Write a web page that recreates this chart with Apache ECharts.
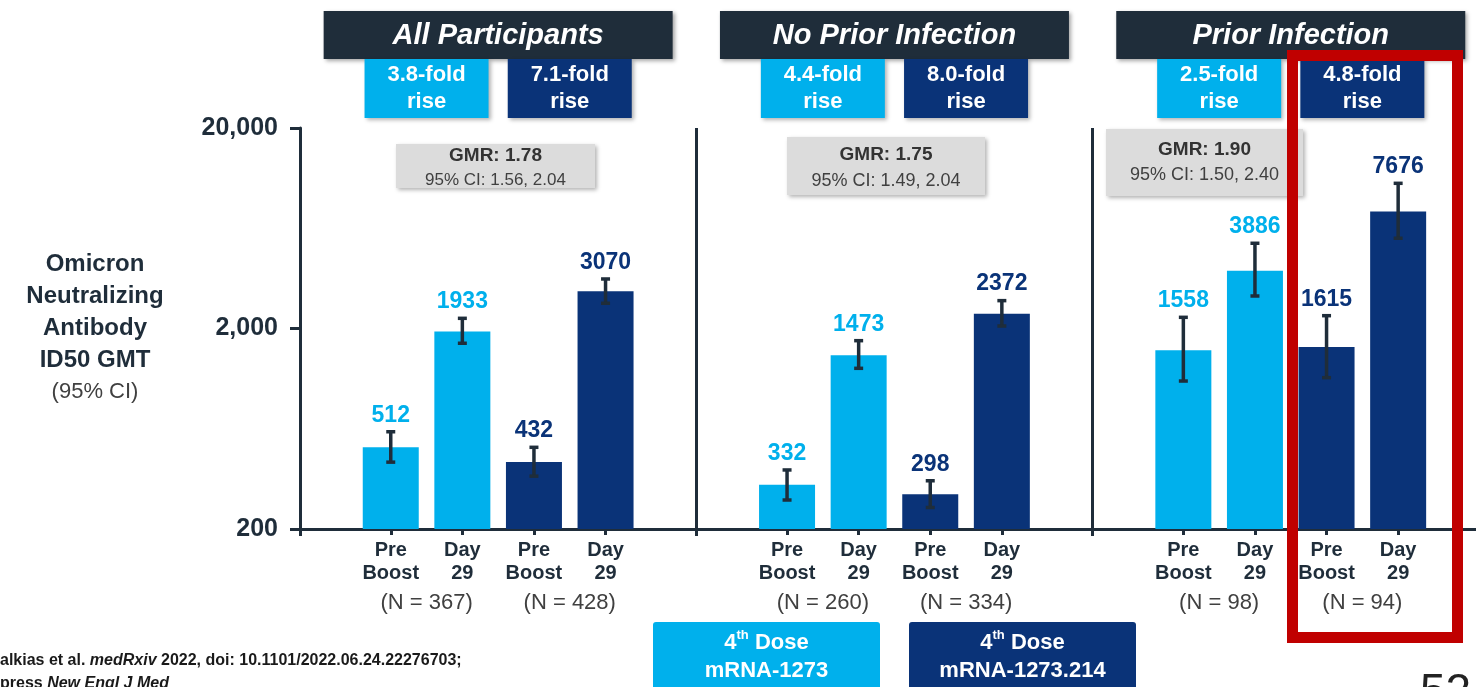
<!DOCTYPE html>
<html>
<head>
<meta charset="utf-8">
<title>Omicron neutralizing antibody GMT</title>
<script src="https://cdn.jsdelivr.net/npm/echarts@6/dist/echarts.min.js"></script>
<style>
  html, body { margin: 0; padding: 0; background: #fff; }
  #chart { width: 1476px; height: 687px; }
</style>
</head>
<body>
<div id="chart"></div>
<script>
// values (GMT and 95% CI per bar)
const panelTitles = ['All Participants', 'No Prior Infection', 'Prior Infection']
const categories = ['Pre\nBoost', 'Day\n29', 'Pre\nBoost', 'Day\n29']
const gmt = [[512, 1933, 432, 3070], [332, 1473, 298, 2372], [1558, 3886, 1615, 7676]]
const ciLow = [[431, 1688, 367, 2672], [279, 1266, 256, 2058], [1094, 2905, 1137, 5637]]
const ciHigh = [[611, 2248, 511, 3532], [394, 1739, 348, 2754], [2274, 5322, 2317, 10596]]
const nCounts = [[367, 428], [260, 334], [98, 94]]
const foldRise = [['3.8', '7.1'], ['4.4', '8.0'], ['2.5', '4.8']]
const gmr = ['1.78', '1.75', '1.90']
const gmrCI = ['1.56, 2.04', '1.49, 2.04', '1.50, 2.40']
const yTickLabels = ['200', '2,000', '20,000']
const vaccines = ['mRNA-1273', 'mRNA-1273.214']

const Y_MIN = 200
const toLog = v => Math.log10(v / Y_MIN)

const LIGHT = '#00b0ec'
const DARK = '#0a3378'
const INK = '#1f2d3a'
const FONT = '"Liberation Sans", Arial, sans-serif'

// layout
const PLOT_L = 300
const PLOT_T = 128
const PLOT_H = 401
const PANEL_W = 396.3
const BAND = 71.6

const chart = echarts.init(document.getElementById('chart'))

const grids = [{ left: PLOT_L, top: PLOT_T, width: PANEL_W * 3, height: PLOT_H, outerBoundsMode: 'none' }]
const xAxes = [{
  type: 'value', gridIndex: 0, min: 0, max: 3, interval: 1,
  axisLine: { show: true, lineStyle: { color: INK, width: 3 } },
  axisTick: { show: true, length: 7, lineStyle: { color: INK, width: 3 } },
  axisLabel: { show: false },
  splitLine: { show: true, lineStyle: { color: INK, width: 3 } }
}]
const yAxes = [{
  type: 'value', gridIndex: 0, min: 0, max: 2, interval: 1,
  axisLine: { show: true, lineStyle: { color: INK, width: 3 } },
  axisTick: { show: true, length: 10, lineStyle: { color: INK, width: 3 } },
  axisLabel: {
    margin: 22, color: INK, fontFamily: FONT, fontWeight: 'bold', fontSize: 25,
    formatter: v => yTickLabels[Math.round(v)]
  },
  splitLine: { show: false }
}]
const series = []
const graphic = []

function errorBars (params, api) {
  const x = api.value(0)
  const lo = api.coord([x, api.value(1)])
  const hi = api.coord([x, api.value(2)])
  const color = x < 2 ? LIGHT : DARK
  const stroke = { stroke: INK, lineWidth: 3.5 }
  return {
    type: 'group',
    children: [
      { type: 'line', shape: { x1: lo[0], y1: lo[1], x2: hi[0], y2: hi[1] }, style: stroke },
      { type: 'line', shape: { x1: hi[0] - 4.5, y1: hi[1], x2: hi[0] + 4.5, y2: hi[1] }, style: stroke },
      { type: 'line', shape: { x1: lo[0] - 4.5, y1: lo[1], x2: lo[0] + 4.5, y2: lo[1] }, style: stroke },
      {
        type: 'text', x: hi[0], y: hi[1] - 5,
        style: {
          text: String(api.value(3)), fill: color, font: 'bold 23px ' + FONT,
          align: 'center', verticalAlign: 'bottom', textAlign: 'center', textVerticalAlign: 'bottom'
        }
      }
    ]
  }
}

panelTitles.forEach((title, k) => {
  const panelLeft = PLOT_L + k * PANEL_W
  const cx = panelLeft + PANEL_W / 2
  grids.push({
    left: cx - BAND * 2, top: PLOT_T, width: BAND * 4, height: PLOT_H, outerBoundsMode: 'none'
  })
  xAxes.push({
    type: 'category', gridIndex: k + 1, data: categories,
    axisLine: { show: false },
    axisTick: { show: true, alignWithLabel: true, length: 6, lineStyle: { color: INK, width: 3 } },
    axisLabel: {
      interval: 0, margin: 10, color: INK, fontFamily: FONT, fontWeight: 'bold',
      fontSize: 20, lineHeight: 23
    }
  })
  yAxes.push({
    type: 'value', gridIndex: k + 1, min: 0, max: 2, show: false
  })
  series.push({
    type: 'bar', xAxisIndex: k + 1, yAxisIndex: k + 1, barWidth: 56,
    data: gmt[k].map((v, i) => ({ value: toLog(v), itemStyle: { color: i < 2 ? LIGHT : DARK } }))
  })
  series.push({
    type: 'custom', xAxisIndex: k + 1, yAxisIndex: k + 1, clip: false,
    renderItem: errorBars,
    data: gmt[k].map((v, i) => [i, toLog(ciLow[k][i]), toLog(ciHigh[k][i]), v]),
    z: 5
  })

  // header
  graphic.push({
    type: 'rect', shape: { x: cx - 174.5, y: 11, width: 349, height: 48 },
    style: { fill: INK, shadowBlur: 4, shadowOffsetX: 2, shadowOffsetY: 2, shadowColor: 'rgba(0,0,0,0.35)' }
  })
  graphic.push({
    type: 'text', x: cx, y: 36,
    style: {
      text: title, fill: '#fff', font: 'italic bold 29px ' + FONT,
      align: 'center', verticalAlign: 'middle', textAlign: 'center', textVerticalAlign: 'middle'
    }
  })
  // fold-rise boxes
  foldRise[k].forEach((f, j) => {
    const bx = cx + (j === 0 ? -1 : 1) * BAND
    graphic.push({
      type: 'rect', shape: { x: bx - 62, y: 59, width: 124, height: 59 },
      style: { fill: j === 0 ? LIGHT : DARK, shadowBlur: 4, shadowOffsetX: 2, shadowOffsetY: 2, shadowColor: 'rgba(0,0,0,0.3)' }
    })
    graphic.push({
      type: 'text', x: bx, y: 88,
      style: {
        text: f + '-fold\nrise', fill: '#fff', font: 'bold 22px ' + FONT, lineHeight: 27,
        align: 'center', verticalAlign: 'middle', textAlign: 'center', textVerticalAlign: 'middle'
      }
    })
    // N labels under each pair
    graphic.push({
      type: 'text', x: bx, y: 603,
      style: {
        text: '(N = ' + nCounts[k][j] + ')', fill: '#404040', font: '22px ' + FONT,
        align: 'center', verticalAlign: 'middle', textAlign: 'center', textVerticalAlign: 'middle'
      }
    })
  })
})

// GMR boxes (sizes differ per panel on the slide)
const gmrBoxes = [
  { x: 396, y: 144, w: 199, h: 44, t1: 156, t2: 180, fs: 17 },
  { x: 787, y: 137, w: 198, h: 58, t1: 155, t2: 181, fs: 18 },
  { x: 1106, y: 129, w: 197, h: 67, t1: 150, t2: 175, fs: 18 }
]
gmrBoxes.forEach((b, k) => {
  graphic.push({
    type: 'rect', shape: { x: b.x, y: b.y, width: b.w, height: b.h },
    style: { fill: '#dcdcdc', shadowBlur: 4, shadowOffsetX: 2, shadowOffsetY: 2, shadowColor: 'rgba(0,0,0,0.3)' }
  })
  const mid = b.x + b.w / 2
  graphic.push({
    type: 'text', x: mid, y: b.t1,
    style: {
      text: 'GMR: ' + gmr[k], fill: '#333', font: 'bold 19px ' + FONT,
      align: 'center', verticalAlign: 'middle', textAlign: 'center', textVerticalAlign: 'middle'
    }
  })
  graphic.push({
    type: 'text', x: mid, y: b.t2,
    style: {
      text: '95% CI: ' + gmrCI[k], fill: '#404040', font: b.fs + 'px ' + FONT,
      align: 'center', verticalAlign: 'middle', textAlign: 'center', textVerticalAlign: 'middle'
    }
  })
})

// y axis title
graphic.push({
  type: 'text', x: 95, y: 312,
  style: {
    text: 'Omicron\nNeutralizing\nAntibody\nID50 GMT', fill: INK, font: 'bold 24px ' + FONT, lineHeight: 32,
    align: 'center', verticalAlign: 'middle', textAlign: 'center', textVerticalAlign: 'middle'
  }
})
graphic.push({
  type: 'text', x: 95, y: 392,
  style: {
    text: '(95% CI)', fill: '#404040', font: '22px ' + FONT,
    align: 'center', verticalAlign: 'middle', textAlign: 'center', textVerticalAlign: 'middle'
  }
})

// legend boxes
vaccines.forEach((name, j) => {
  const x = j === 0 ? 653 : 909
  graphic.push({
    type: 'rect', shape: { x: x, y: 622, width: 227, height: 80, r: 3 },
    style: { fill: j === 0 ? LIGHT : DARK }
  })
  graphic.push({
    type: 'text', x: x + 113.5, y: 657,
    style: {
      text: '{a|4}{s|th}{a| Dose}\n{a|' + name + '}',
      align: 'center', verticalAlign: 'middle', textAlign: 'center', textVerticalAlign: 'middle',
      rich: {
        a: { fill: '#fff', font: 'bold 22px ' + FONT, lineHeight: 28 },
        s: { fill: '#fff', font: 'bold 13px ' + FONT, lineHeight: 28, verticalAlign: 'top', padding: [0, 0, 10, 0] }
      }
    }
  })
})

// footnote
graphic.push({
  type: 'text', x: 0, y: 649,
  style: {
    text: '{b|alkias et al. }{i|medRxiv}{b| 2022, doi: 10.1101/2022.06.24.22276703;}\n{b|press }{i|New Engl J Med}',
    align: 'left', verticalAlign: 'top', textAlign: 'left', textVerticalAlign: 'top',
    rich: {
      b: { fill: '#1a1a1a', font: 'bold 16px ' + FONT, lineHeight: 23 },
      i: { fill: '#1a1a1a', font: 'italic bold 16px ' + FONT, lineHeight: 23 }
    }
  }
})

// highlight frame and page number
graphic.push({
  type: 'rect', z: 100, shape: { x: 1292.5, y: 55.5, width: 165, height: 582 },
  style: { fill: 'none', stroke: '#c00000', lineWidth: 11 }
})
graphic.push({
  type: 'text', x: 1420, y: 670,
  style: { text: '52', fill: '#222', font: '46px ' + FONT, align: 'left', verticalAlign: 'top', textAlign: 'left', textVerticalAlign: 'top' }
})

chart.setOption({
  animation: false,
  backgroundColor: '#fff',
  grid: grids,
  xAxis: xAxes,
  yAxis: yAxes,
  series: series,
  graphic: { elements: graphic }
})

window.onresize = function () {
  chart.resize()
}
</script>
</body>
</html>
